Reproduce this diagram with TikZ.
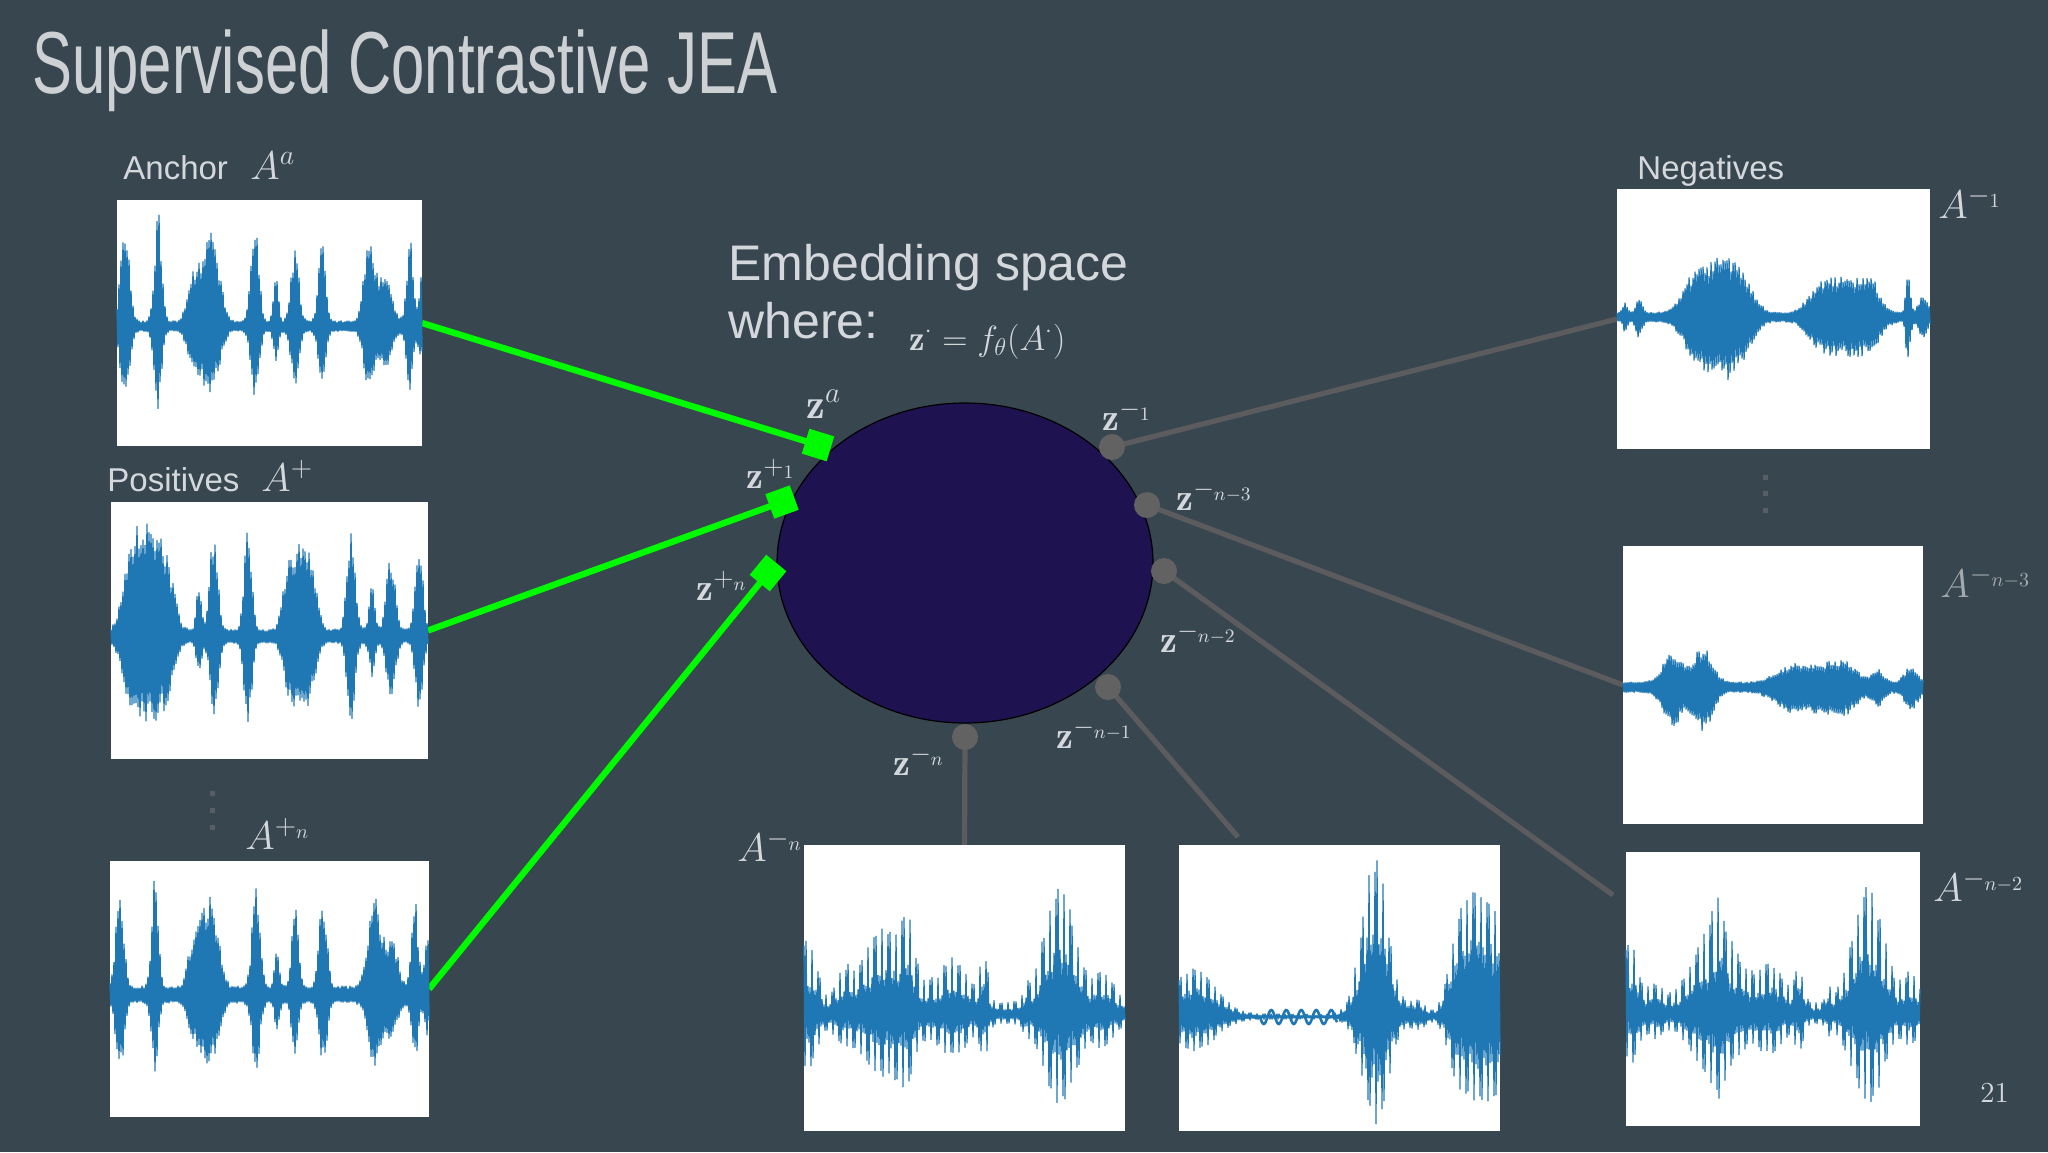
\RequirePackage{fix-cm}
\documentclass[tikz,border=0pt]{standalone}
\usepackage{fontspec}
\usepackage{graphicx}
\usetikzlibrary{shapes.geometric}
\newfontfamily\arialf{Liberation Sans}
\definecolor{bgc}{RGB}{56,71,79}
\definecolor{txtc}{RGB}{212,216,220}
\definecolor{titc}{RGB}{205,209,212}
\definecolor{embc}{RGB}{31,18,80}
\definecolor{grn}{RGB}{0,250,0}
\definecolor{negl}{RGB}{92,92,94}
\definecolor{negd}{RGB}{98,98,98}
\definecolor{wavc}{RGB}{31,119,180}
\definecolor{dotc}{RGB}{88,94,100}
\definecolor{dimc}{RGB}{165,170,175}
\pgfdeclarelayer{background}
\pgfsetlayers{background,main}

% left x, centre y, width, envelope, lower ratio, samples
\newcommand{\wavedense}[6]{%
  \draw[wavc, line width=0.7pt, line join=round]
    plot[domain=0:#3, samples=#6] ({#1+\x}, {#2 - (mod(\x+0.5,2)<1 ? 1 : -#5)*#4(\x)*(0.72+0.28*rnd)});}
% left x, centre y, width, envelope, lower ratio, samples, period, core ratio
\newcommand{\wavepitch}[8]{%
  \draw[wavc, line width=0.65pt, line join=round]
    plot[domain=0:#3, samples=#6] ({#1+\x}, {#2 - (mod(\x+0.5,2)<1 ? 1 : -#5)*#4(\x)*(mod(\x+0.5,#7)<3 ? 0.85+0.15*rnd : #8*(0.7+0.3*rnd))});}

\tikzset{
  wavebox/.style={rectangle, fill=white, inner sep=0pt, outer sep=0pt},
  lbl/.style={anchor=base west, inner sep=0pt, text=txtc},
  gline/.style={draw=grn, line width=3.2pt},
  nline/.style={draw=negl, line width=2.6pt},
  gsq/.style={rectangle, fill=grn, minimum size=13pt, inner sep=0pt},
  ndot/.style={circle, fill=negd, minimum size=13pt, inner sep=0pt},
  vdot/.style={rectangle, fill=dotc, minimum size=2.5pt, inner sep=0pt},
  sanslbl/.style={lbl, font=\arialf\fontsize{16.5}{20}\selectfont},
  zlbl/.style={lbl, font=\fontsize{19}{22}\selectfont},
  albl/.style={lbl, font=\fontsize{20}{24}\selectfont},
}

\begin{document}
\begin{tikzpicture}[x=0.5pt, y=-0.5pt,
  declare function={
    gb(\x,\mc,\mw,\ma)=\ma*exp(-min(((\x-\mc)/\mw)*((\x-\mc)/\mw),9));
    fl(\x,\mc,\mw,\ma)=\ma*exp(-(min(((\x-\mc)/\mw)*((\x-\mc)/\mw),3))^2);
    envAnc(\x)=6+gb(\x,8,6,102)+gb(\x,41,5,110)+fl(\x,88,19,62)+gb(\x,93,7,28)+gb(\x,138,5.5,99)+gb(\x,159,3.5,43)+gb(\x,178,5.5,75)+gb(\x,205,5,87)+gb(\x,252,7,90)+gb(\x,268,9,55)+gb(\x,293,4.5,85)+gb(\x,304,3.5,43);
    envPos(\x)=8+gb(\x,8,6,10)+fl(\x,33,21,105)+gb(\x,58,9,55)+gb(\x,88,3.5,45)+gb(\x,103,5.5,105)+gb(\x,137,5,115)+fl(\x,189,18,85)+gb(\x,240,5.5,102)+gb(\x,261,4,45)+gb(\x,280,6,78)+gb(\x,308,5,92);
    envApn(\x)=10+gb(\x,10,5.5,100)+gb(\x,45,4.5,110)+fl(\x,95,18,65)+gb(\x,99,7,28)+gb(\x,146,5.5,100)+gb(\x,167,3.5,41)+gb(\x,185,4.5,80)+gb(\x,213,5.5,90)+gb(\x,265,9,94)+gb(\x,282,8,50)+gb(\x,305,4.5,88)+gb(\x,317,3.5,51);
    envNa(\x)=5+gb(\x,8,3,10)+gb(\x,22,4,17)+fl(\x,101,37,50)+gb(\x,108,8,10)+fl(\x,227,38,35)+gb(\x,255,6,10)+gb(\x,291,3,42)+gb(\x,306,6,16);
    envNc(\x)=5+gb(\x,50,14,30)+gb(\x,80,13,35)+fl(\x,193,46,20)+gb(\x,220,10,5)+gb(\x,255,8,13)+gb(\x,288,9,16);
    envNn(\x)=12+gb(\x,4,12,66)+gb(\x,40,12,24)+gb(\x,84,32,82)+gb(\x,104,7,40)+gb(\x,150,20,45)+gb(\x,180,6,45)+gb(\x,222,3,14)+gb(\x,256,22,120)+gb(\x,300,14,32);
    envMid(\x)=3+gb(\x,15,30,48)+gb(\x,196,18,160)+gb(\x,238,12,16)+fl(\x,300,32,125);
    envNb(\x)=12+gb(\x,4,12,60)+gb(\x,30,10,20)+gb(\x,90,30,82)+gb(\x,93,7,30)+gb(\x,145,18,42)+gb(\x,173,6,38)+gb(\x,202,3,16)+gb(\x,242,22,118)+gb(\x,285,10,32);
  }]
\pgfmathsetseed{7}
\begin{pgfonlayer}{background}
\fill[bgc] (0,0) rectangle (2048,1152);
\end{pgfonlayer}
\useasboundingbox (0,0) rectangle (2048,1152);

% title
\node[lbl, text=titc, font=\arialf\fontsize{44}{50}\selectfont] (title) at (32,93) {\scalebox{0.68}[1]{Supervised Contrastive JEA}};

% embedding space
\node[ellipse, draw=black, line width=0.6pt, fill=embc, minimum width=188pt, minimum height=160pt, inner sep=0pt] (emb) at (965,563) {};
\node[lbl, font=\arialf\fontsize{25}{30}\selectfont] (emt1) at (728,280) {Embedding space};
\node[lbl, font=\arialf\fontsize{25}{30}\selectfont] (emt2) at (728,338) {where:};
\node[lbl, font=\fontsize{17.5}{21}\selectfont] (emf) at (909,350) {$\mathbf{z}^{\cdot} = f_\theta(A^{\cdot})$};

% boxes
\node[wavebox, minimum width=152.5pt, minimum height=123pt] (anc) at (269.5,323) {};
\node[wavebox, minimum width=158.5pt, minimum height=128.5pt] (pos) at (269.5,630.5) {};
\node[wavebox, minimum width=159.5pt, minimum height=128pt] (apn) at (269.5,989) {};
\node[wavebox, minimum width=156.5pt, minimum height=130pt] (n1) at (1773.5,319) {};
\node[wavebox, minimum width=150pt, minimum height=139pt] (n3) at (1773,685) {};
\node[wavebox, minimum width=147pt, minimum height=137pt] (n2) at (1773,989) {};
\node[wavebox, minimum width=160.5pt, minimum height=143pt] (nn) at (964.5,988) {};
\node[wavebox, minimum width=160.5pt, minimum height=143pt] (nm) at (1339.5,988) {};

% waveforms
\wavedense{117}{327}{305}{envAnc}{0.72}{306}
\wavedense{111}{637}{317}{envPos}{0.78}{318}
\wavedense{110}{996}{319}{envApn}{0.7}{320}
\wavedense{1617}{317}{313}{envNa}{1.0}{314}
\wavedense{1623}{687}{300}{envNc}{1.1}{301}
\wavepitch{804}{1015}{321}{envNn}{0.72}{322}{7}{0.5}
\wavepitch{1179}{1017}{321}{envMid}{0.68}{322}{7}{0.6}
\wavepitch{1626}{1015}{294}{envNb}{0.7}{295}{7}{0.5}
\draw[wavc, line width=1.3pt] plot[domain=81:158, samples=90] ({1179+\x}, {1017+7*sin(24*(\x-81))});

% markers
\node[gsq, rotate=-17.1] (za) at (818,445) {};
\node[gsq, rotate=20] (zpa) at (782,502) {};
\node[gsq, rotate=50.7] (zpn) at (768,573) {};
\node[ndot] (zma) at (1112,447) {};
\node[ndot] (zmc) at (1147,505) {};
\node[ndot] (zmb) at (1164,571) {};
\node[ndot] (zmd) at (1108,687) {};
\node[ndot] (zmn) at (965,737) {};
\coordinate (n2end) at (1613,895);
\coordinate (nmend) at (1238,837);

% connectors
\begin{pgfonlayer}{background}
\draw[gline] (anc.east) -- (za.center);
\draw[gline] (pos.east) -- (zpa.center);
\draw[gline] (apn.east) -- (zpn.center);
\draw[nline] (zma.center) -- (n1.west);
\draw[nline] (zmc.center) -- (n3.west);
\draw[nline] (zmb.center) -- (n2end);
\draw[nline] (zmd.center) -- (nmend);
\draw[nline] (zmn.center) -- (nn.north);
\end{pgfonlayer}

% side labels
\node[sanslbl] (tanc) at (123,179) {Anchor};
\node[albl] (laa) at (250,179) {$A^{a}$};
\node[sanslbl] (tpos) at (107,491) {Positives};
\node[albl] (lap) at (261,491) {$A^{+}$};
\node[albl] (lapn) at (245,849) {$A^{+_n}$};
\node[sanslbl] (tneg) at (1637,179) {Negatives};
\node[albl] (lna) at (1938,218) {$A^{-_1}$};
\node[albl, text=dimc] (lnc) at (1940,597) {$A^{-_{n-3}}$};
\node[albl] (lnb) at (1933,901) {$A^{-_{n-2}}$};
\node[albl] (lnn) at (737,861) {$A^{-_n}$};

% z labels
\node[zlbl, font=\fontsize{21}{24}\selectfont] (tza) at (806,418) {$\mathbf{z}^{a}$};
\node[zlbl] (tzpa) at (746,488) {$\mathbf{z}^{+_1}$};
\node[zlbl] (tzpn) at (696,600) {$\mathbf{z}^{+_n}$};
\node[zlbl] (tzmn) at (893,775) {$\mathbf{z}^{-_n}$};
\node[zlbl] (tzmd) at (1056,748) {$\mathbf{z}^{-_{n-1}}$};
\node[zlbl] (tzma) at (1102,430) {$\mathbf{z}^{-_1}$};
\node[zlbl] (tzmc) at (1176,510) {$\mathbf{z}^{-_{n-3}}$};
\node[zlbl] (tzmb) at (1160,652) {$\mathbf{z}^{-_{n-2}}$};

% vertical ellipses
\foreach \yy [count=\i] in {793,810,827} \node[vdot] (lv\i) at (212,\yy) {};
\foreach \yy [count=\i] in {477,493,510} \node[vdot] (rv\i) at (1765,\yy) {};

% page number
\node[lbl, font=\fontsize{14.5}{17}\selectfont] (pgnum) at (1980,1102) {21};
\end{tikzpicture}
\end{document}
